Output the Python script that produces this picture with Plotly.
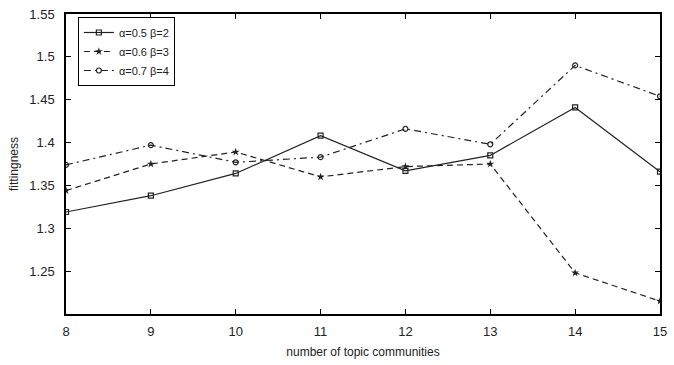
import plotly.graph_objects as go

x_vals = [8, 9, 10, 11, 12, 13, 14, 15]
series1 = [1.319, 1.338, 1.364, 1.408, 1.367, 1.385, 1.441, 1.366]
series2 = [1.344, 1.375, 1.389, 1.360, 1.372, 1.375, 1.248, 1.215]
series3 = [1.374, 1.397, 1.377, 1.383, 1.416, 1.398, 1.490, 1.454]
names = ["α=0.5 β=2", "α=0.6 β=3", "α=0.7 β=4"]
y_ticks = [1.25, 1.3, 1.35, 1.4, 1.45, 1.5, 1.55]
y_tick_text = ["1.25", "1.3", "1.35", "1.4", "1.45", "1.5", "1.55"]

fig = go.Figure()
fig.add_trace(go.Scatter(x=x_vals, y=series1, name=names[0], mode="lines+markers",
                         line=dict(color="#222", width=1.2, dash="solid"),
                         marker=dict(symbol="square-open", size=5, color="#222", line=dict(width=1.2))))
fig.add_trace(go.Scatter(x=x_vals, y=series2, name=names[1], mode="lines+markers",
                         line=dict(color="#222", width=1.2, dash="6px,4px"),
                         marker=dict(symbol="star", size=6, color="#222")))
fig.add_trace(go.Scatter(x=x_vals, y=series3, name=names[2], mode="lines+markers",
                         line=dict(color="#222", width=1.2, dash="7px,4px,2px,4px"),
                         marker=dict(symbol="circle-open", size=5, color="#222", line=dict(width=1.2))))

fig.update_layout(
    width=674, height=365,
    margin=dict(l=66, r=7, t=10, b=51),
    paper_bgcolor="white", plot_bgcolor="white",
    font=dict(family="Liberation Sans, Arial, sans-serif", size=12, color="#222"),
    showlegend=True,
    legend=dict(x=0.02, y=0.99, xanchor="left", yanchor="top",
                bordercolor="black", borderwidth=1, bgcolor="white",
                font=dict(size=11), tracegroupgap=0, itemwidth=30),
)
fig.update_xaxes(range=[8, 15], tickvals=x_vals, ticks="inside", ticklen=5,
                 tickcolor="black", tickwidth=1, ticklabelstandoff=5,
                 tickfont=dict(size=13),
                 showline=True, linecolor="black", linewidth=1.5, mirror="ticks",
                 showgrid=False, zeroline=False,
                 title=dict(text="number of topic communities", standoff=9,
                            font=dict(size=12)))
fig.update_yaxes(range=[1.2, 1.55], tickvals=y_ticks, ticktext=y_tick_text,
                 ticks="inside", ticklen=5, tickcolor="black", tickwidth=1,
                 ticklabelstandoff=7, tickfont=dict(size=13),
                 showline=True, linecolor="black", linewidth=1.5, mirror="ticks",
                 showgrid=False, zeroline=False,
                 title=dict(text="fittingness", standoff=8, font=dict(size=12)))

fig.write_html("out.html", config={"displayModeBar": False},
               post_script="document.body.style.margin='0';")
